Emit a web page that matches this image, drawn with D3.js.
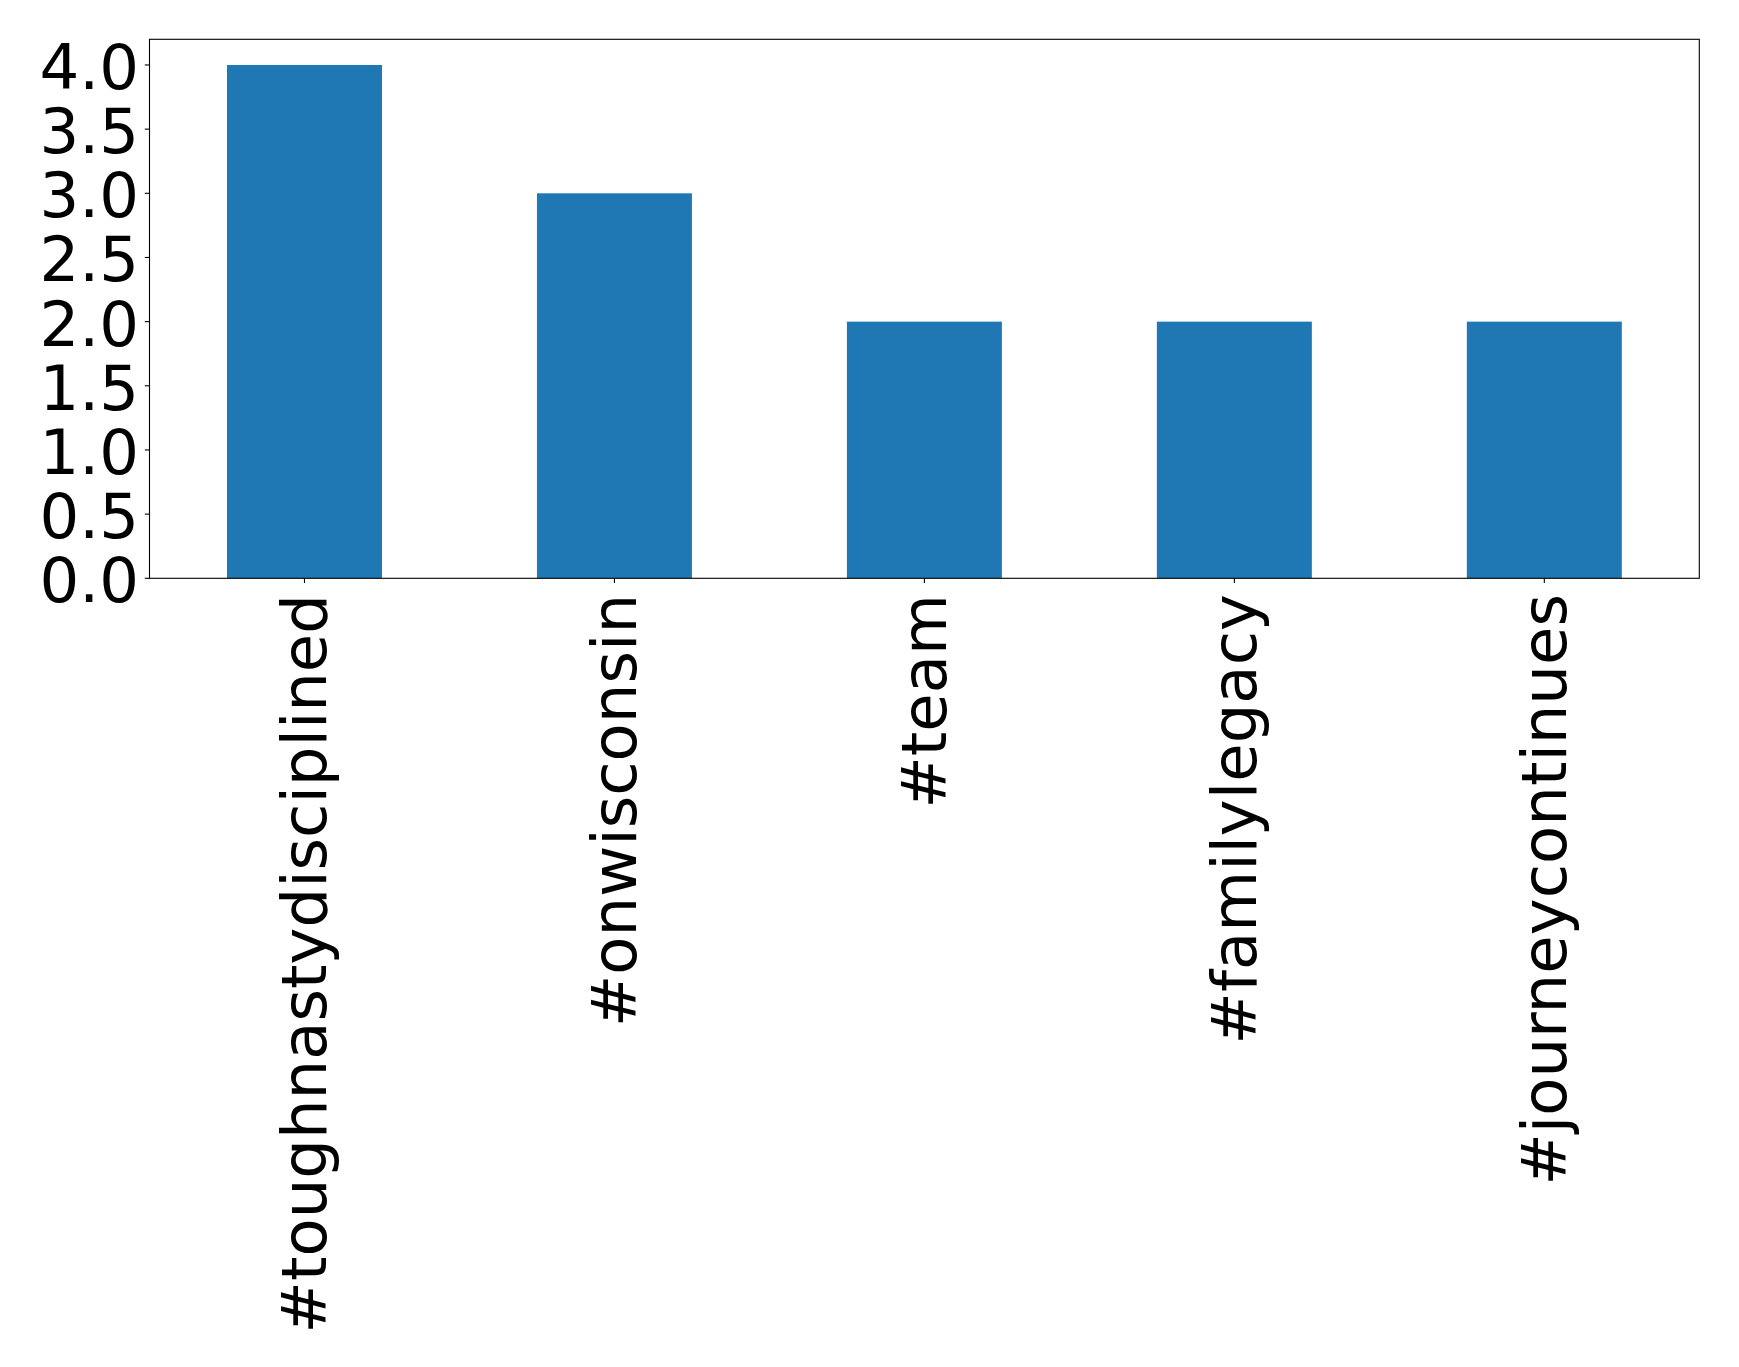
<!DOCTYPE html>
<html>
<head>
<meta charset="utf-8">
<script src="https://cdn.jsdelivr.net/npm/d3@7"></script>
<style>
html, body { margin: 0; padding: 0; background: #fff; }
svg { display: block; }
text { font-family: "DejaVu Sans", sans-serif; fill: #000; }
</style>
</head>
<body>
<script>
const categories = ["#toughnastydisciplined", "#onwisconsin", "#team", "#familylegacy", "#journeycontinues"];
const counts = [4, 3, 2, 2, 2];
const yTicks = [0, 0.5, 1, 1.5, 2, 2.5, 3, 3.5, 4];

const W = 1739, H = 1367;
const mLeft = 149.5, mRight = 1699.3, mTop = 39.3, mBottom = 578.3;
const fontSize = 62.5;

const svg = d3.select("body").append("svg").attr("width", W).attr("height", H);

const x = d3.scaleBand().domain(categories).range([mLeft, mRight]).paddingInner(0.5).paddingOuter(0.25);
const y = d3.scaleLinear().domain([0, 4.2]).range([mBottom, mTop]);

svg.append("g").selectAll("rect").data(categories).join("rect")
  .attr("x", d => x(d))
  .attr("width", x.bandwidth())
  .attr("y", (d, i) => y(counts[i]))
  .attr("height", (d, i) => y(0) - y(counts[i]))
  .attr("fill", "#1f77b4");

// frame
svg.append("rect").attr("x", mLeft).attr("y", mTop).attr("width", mRight - mLeft).attr("height", mBottom - mTop)
  .attr("fill", "none").attr("stroke", "#000").attr("stroke-width", 1.1);

// y axis ticks
const yg = svg.append("g");
yg.selectAll("line").data(yTicks).join("line")
  .attr("x1", mLeft - 4.7).attr("x2", mLeft)
  .attr("y1", d => y(d)).attr("y2", d => y(d))
  .attr("stroke", "#000").attr("stroke-width", 1.1);
yg.selectAll("text").data(yTicks).join("text")
  .attr("x", 139).attr("y", d => y(d) + 24)
  .attr("text-anchor", "end").attr("font-size", fontSize)
  .text(d => d3.format(".1f")(d));

// x axis ticks
const xg = svg.append("g");
const cx = d => x(d) + x.bandwidth() / 2;
xg.selectAll("line").data(categories).join("line")
  .attr("x1", cx).attr("x2", cx)
  .attr("y1", mBottom).attr("y2", mBottom + 4.7)
  .attr("stroke", "#000").attr("stroke-width", 1.1);
xg.selectAll("text").data(categories).join("text")
  .attr("transform", d => `translate(${cx(d) + 22},594) rotate(-90)`)
  .attr("text-anchor", "end").attr("font-size", fontSize)
  .text(d => d);
</script>
</body>
</html>
